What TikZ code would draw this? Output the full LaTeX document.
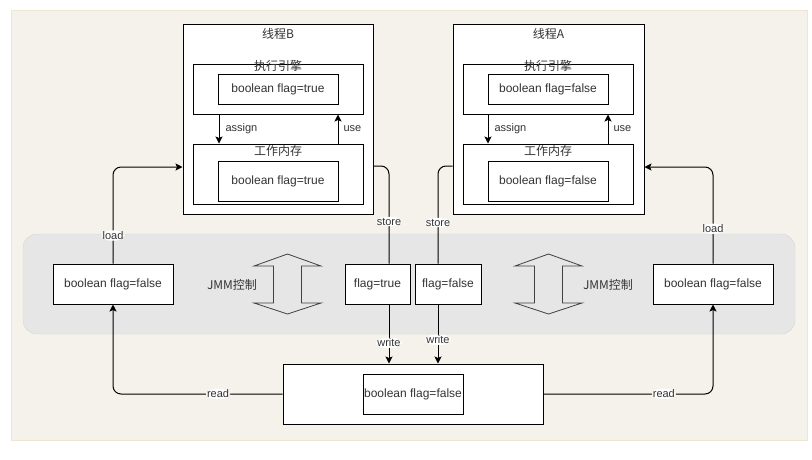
\documentclass[tikz,border=0pt]{standalone}
\usepackage{fontspec}
\setmainfont{Liberation Sans}
\newfontfamily\cjk{Noto Sans CJK SC}
\usetikzlibrary{arrows.meta,positioning}
\definecolor{canvas}{HTML}{F5F2EC}
\definecolor{framebd}{HTML}{ECE6D2}
\definecolor{bandfill}{HTML}{E6E6E6}
\definecolor{bandline}{HTML}{D6D6D6}

\begin{document}
\begin{tikzpicture} [x=1pt, y=-1pt,
    box/.style={rectangle, draw=black, fill=white, line width=1pt, inner sep=0pt, text=black!80, font=\fontsize{12}{14}\selectfont},
    tag/.style={inner sep=0pt, text=black!80, font=\fontsize{12}{14}\selectfont\cjk},
    lbl/.style={fill=white, inner sep=1pt, text=black!80, font=\fontsize{11}{13}\selectfont},
    link/.style={draw=black, line width=1pt, rounded corners=8pt},
    jmm/.style={draw=black!75, line width=0.8pt},
    >={Stealth[length=7pt,width=7pt,inset=1.5pt]}
    ]
    %Canvas
    \fill[white] (0,0) rectangle (812,459);
    \useasboundingbox (0,0) rectangle (812,459);
    \draw[draw=framebd, fill=canvas] (11,10) rectangle (807,440);
    \draw[draw=bandline, fill=bandfill, rounded corners=14pt] (23,234) rectangle (795,334);
    %Thread B
    \node[box, minimum width=190pt, minimum height=190pt] (tB) at (278,119) {};
    \node[tag, below=5pt of tB.north] (tBt) {线程B};
    \node[box, minimum width=170pt, minimum height=50pt] (eB) at (278,89) {};
    \node[box, minimum width=120pt, minimum height=30pt] (eBv) at (eB) {boolean flag=true};
    \node[tag] (eBt) at (278,66) {执行引擎};
    \node[box, minimum width=170pt, minimum height=60pt] (wB) at (278,174) {};
    \node[box, minimum width=120pt, minimum height=40pt] (wBv) at (278,181) {boolean flag=true};
    \node[tag] (wBt) at (278,151) {工作内存};
    %Thread A
    \node[box, minimum width=191pt, minimum height=190pt] (tA) at (548.5,119) {};
    \node[tag, below=5pt of tA.north] (tAt) {线程A};
    \node[box, minimum width=170pt, minimum height=50pt] (eA) at (548,89) {};
    \node[box, minimum width=120pt, minimum height=30pt] (eAv) at (eA) {boolean flag=false};
    \node[tag] (eAt) at (548,66) {执行引擎};
    \node[box, minimum width=170pt, minimum height=60pt] (wA) at (548,174) {};
    \node[box, minimum width=120pt, minimum height=40pt] (wAv) at (548,181) {boolean flag=false};
    \node[tag] (wAt) at (548,151) {工作内存};
    %JMM band
    \node[box, minimum width=120pt, minimum height=40pt] (L) at (113,284) {boolean flag=false};
    \node[box, minimum width=65pt, minimum height=40pt] (T) at (377.5,284) {flag=true};
    \node[box, minimum width=66pt, minimum height=40pt] (F) at (448,284) {flag=false};
    \node[box, minimum width=120pt, minimum height=40pt] (R) at (713,284) {boolean flag=false};
    \node[tag] (jB) at (232,285) {JMM控制};
    \node[tag] (jA) at (608,285) {JMM控制};
    \foreach \cx in {287.5,548.5}
        \draw[jmm, shift={(\cx,284)}] (-33.5,-18) -- (0,-30) -- (33.5,-18) -- (14,-18) -- (14,19)
            -- (33.5,19) -- (0,30) -- (-33.5,19) -- (-14,19) -- (-14,-18) -- cycle;
    %Main memory
    \node[box, minimum width=260pt, minimum height=60pt] (M) at (413,394) {};
    \node[box, minimum width=100pt, minimum height=40pt] (Mv) at (M) {boolean flag=false};
    %Corners
    \coordinate (sB) at (389,166);
    \coordinate (sA) at (438,166);
    \coordinate (ldL) at (113,167);
    \coordinate (ldR) at (713,167);
    \coordinate (rdL) at (113,394);
    \coordinate (rdR) at (713,394);
    %Lines
    \draw[link, ->] ([xshift=-59pt]eB.south) -- ([xshift=-59pt]wB.north) node[lbl, fill=none, midway, right=5pt] {assign};
    \draw[link, ->] ([xshift=60pt]wB.north) -- ([xshift=60pt]eB.south) node[lbl, fill=none, midway, right=4pt] {use};
    \draw[link, ->] ([xshift=-60pt]eA.south) -- ([xshift=-60pt]wA.north) node[lbl, fill=none, midway, right=5pt] {assign};
    \draw[link, ->] ([xshift=60pt]wA.north) -- ([xshift=60pt]eA.south) node[lbl, fill=none, midway, right=4pt] {use};
    \draw[link] (tB.east |- sB) -- (sB) -- node[lbl, pos=0.57] {store} (T.north -| sB);
    \draw[link, ->] (T.south -| sB) -- node[lbl, pos=0.65] {write} (M.north -| sB);
    \draw[link] (tA.west |- sA) -- (sA) -- node[lbl, pos=0.58] {store} (F.north -| sA);
    \draw[link, ->] (F.south -| sA) -- node[lbl, pos=0.6] {write} (M.north -| sA);
    \draw[link, ->] (L.north) -- node[lbl, pos=0.29] {load} (ldL) -- (tB.west |- ldL);
    \draw[link, ->] (R.north) -- node[lbl, pos=0.36] {load} (ldR) -- (tA.east |- ldR);
    \draw[link, ->] (M.west) -- node[lbl, pos=0.38] {read} (rdL) -- (L.south);
    \draw[link, ->] (M.east) -- node[lbl, pos=0.71] {read} (rdR) -- (R.south);
\end{tikzpicture}
\end{document}
